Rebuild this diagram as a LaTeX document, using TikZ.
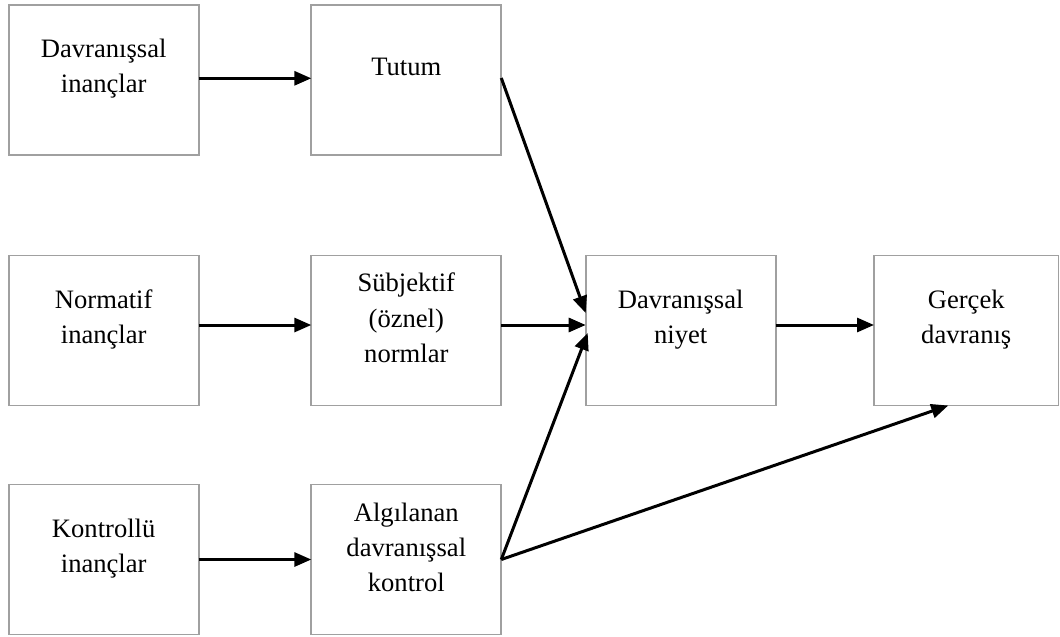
\documentclass[tikz,border=0pt]{standalone}
\usepackage{fontspec}
\setmainfont{Liberation Serif}
\usetikzlibrary{arrows.meta}
\definecolor{boxgray}{RGB}{160,160,160}
\begin{document}
\begin{tikzpicture}[x=1pt,y=-1pt,
  box/.style={draw=boxgray, line width=1.8pt, rectangle, inner sep=0pt, outer sep=0pt,
              minimum width=190pt, minimum height=150pt},
  txt/.style={anchor=base, inner sep=0pt, font=\fontsize{26.6}{35}\selectfont},
  conn/.style={line width=3pt, -{Triangle[length=17pt,width=14pt]}}]
\useasboundingbox (0,0) rectangle (1060,637);
\fill[white] (0,0) rectangle (1060,637);
% boxes
\node[box] (b1) at (103.7,80) {};
\node[box] (b2) at (406.3,80) {};
\node[box] (b3) at (103.7,330.5) {};
\node[box] (b4) at (406.3,330.5) {};
\node[box] (b5) at (680.7,330.5) {};
\node[box, minimum width=184.5pt] (b6) at (966.25,330.5) {};
\node[box] (b7) at (103.7,559.5) {};
\node[box] (b8) at (406.3,559.5) {};
% texts
\node[txt] (t1a) at (103.7,57) {Davranışsal};
\node[txt] (t1b) at (103.7,92) {inançlar};
\node[txt] (t2a) at (406.3,75) {Tutum};
\node[txt] (t3a) at (103.7,308) {Normatif};
\node[txt] (t3b) at (103.7,343) {inançlar};
\node[txt] (t4a) at (406.3,291) {Sübjektif};
\node[txt] (t4b) at (406.3,327) {(öznel)};
\node[txt] (t4c) at (406.3,362) {normlar};
\node[txt] (t5a) at (680.7,308) {Davranışsal};
\node[txt] (t5b) at (680.7,343) {niyet};
\node[txt] (t6a) at (966.25,308) {Gerçek};
\node[txt] (t6b) at (966.25,343) {davranış};
\node[txt] (t7a) at (103.7,537) {Kontrollü};
\node[txt] (t7b) at (103.7,572) {inançlar};
\node[txt] (t8a) at (406.3,521) {Algılanan};
\node[txt] (t8b) at (406.3,556) {davranışsal};
\node[txt] (t8c) at (406.3,591) {kontrol};
% connectors
\draw[conn] ([yshift=1.7pt]b1.east) -- ([yshift=1.7pt]b2.west);
\draw[conn] ([yshift=5.5pt]b3.east) -- ([yshift=5.5pt]b4.west);
\draw[conn] (b7.east) -- (b8.west);
\draw[conn] ([yshift=2pt]b2.east) -- ([yshift=17.5pt]b5.west);
\draw[conn] ([yshift=5.5pt]b4.east) -- ([yshift=5.5pt]b5.west);
\draw[conn] (b8.east) -- ([shift={(2pt,-2.5pt)}]b5.west);
\draw[conn] (b8.east) -- ([xshift=-18pt]b6.south);
\draw[conn] ([yshift=5.5pt]b5.east) -- ([yshift=5.5pt]b6.west);
\end{tikzpicture}
\end{document}
